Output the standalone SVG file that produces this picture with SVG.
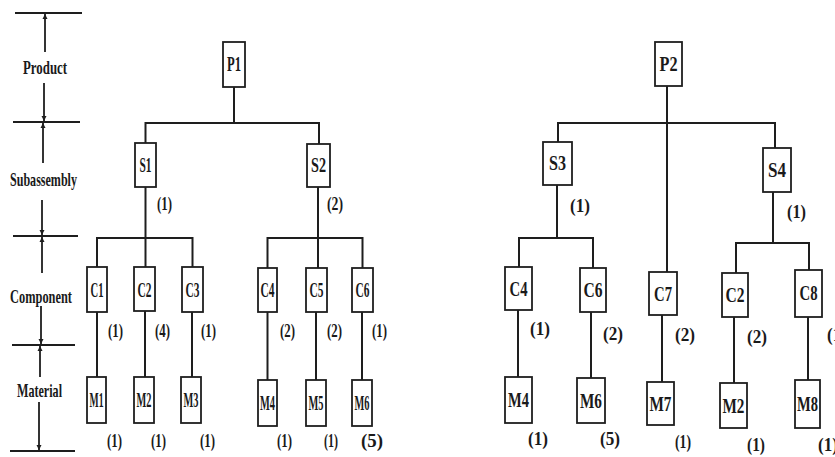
<svg xmlns="http://www.w3.org/2000/svg" width="835" height="457" viewBox="0 0 835 457">
<style>
.bg{fill:#ffffff}
.box{fill:#ffffff;stroke:#1e1e1e;stroke-width:1.8}
.ln{fill:none;stroke:#1e1e1e;stroke-width:2;stroke-linecap:square}
.ax{fill:none;stroke:#1e1e1e;stroke-width:1.8}
.t{font-family:"Liberation Serif","Times New Roman",serif;font-size:20px;font-weight:bold;fill:#1a1a1a;text-anchor:middle}
.q{font-family:"Liberation Serif","Times New Roman",serif;font-size:18px;font-weight:bold;fill:#1a1a1a}
.lv{font-family:"Liberation Serif","Times New Roman",serif;font-size:19px;font-weight:bold;fill:#1a1a1a}
</style>
<defs>
<marker id="arr" viewBox="0 0 6 6" refX="6" refY="3" markerWidth="5" markerHeight="6" markerUnits="userSpaceOnUse" orient="auto">
<path d="M0,0 L6,3 L0,6 z" fill="#1e1e1e"/>
</marker>
</defs>
<rect class="bg" x="0" y="0" width="835" height="457"/>

<g id="levels">
<line class="ax" x1="15" y1="13" x2="82" y2="13"/>
<line class="ax" x1="13" y1="122" x2="80" y2="122"/>
<line class="ax" x1="13" y1="236" x2="78" y2="236"/>
<line class="ax" x1="12" y1="345" x2="75" y2="345"/>
<line class="ax" x1="10" y1="451" x2="75" y2="451"/>
<line class="ax" x1="45" y1="52" x2="45" y2="14" marker-end="url(#arr)"/>
<line class="ax" x1="44" y1="83" x2="44" y2="121" marker-end="url(#arr)"/>
<line class="ax" x1="43" y1="163" x2="43" y2="123" marker-end="url(#arr)"/>
<line class="ax" x1="42" y1="200" x2="42" y2="235" marker-end="url(#arr)"/>
<line class="ax" x1="42" y1="273" x2="42" y2="237" marker-end="url(#arr)"/>
<line class="ax" x1="41" y1="306" x2="41" y2="344" marker-end="url(#arr)"/>
<line class="ax" x1="40" y1="377" x2="40" y2="346" marker-end="url(#arr)"/>
<line class="ax" x1="39" y1="402" x2="39" y2="450" marker-end="url(#arr)"/>
<text class="lv" x="23" y="74" textLength="44" lengthAdjust="spacingAndGlyphs">Product</text>
<text class="lv" x="10" y="186" textLength="67" lengthAdjust="spacingAndGlyphs">Subassembly</text>
<text class="lv" x="10" y="303" textLength="62" lengthAdjust="spacingAndGlyphs">Component</text>
<text class="lv" x="17" y="397" textLength="45" lengthAdjust="spacingAndGlyphs">Material</text>
</g>

<g id="connectors">
<polyline class="ln" points="234,87 234,123"/>
<polyline class="ln" points="145.5,143 145.5,123 319,123 319,144"/>
<polyline class="ln" points="145.5,187 145.5,267"/>
<polyline class="ln" points="97,267 97,238 192.5,238 192.5,267"/>
<polyline class="ln" points="97,312 97,377"/>
<polyline class="ln" points="145,311 145,377"/>
<polyline class="ln" points="192,312 192,377"/>
<polyline class="ln" points="318,187 318,268"/>
<polyline class="ln" points="267.5,268 267.5,238 362.5,238 362.5,268"/>
<polyline class="ln" points="267.5,312 267.5,380"/>
<polyline class="ln" points="316,312 316,380"/>
<polyline class="ln" points="362,312 362,380"/>

<polyline class="ln" points="667,86 667,272"/>
<polyline class="ln" points="558,142 558,123 775,123 775,148"/>
<polyline class="ln" points="557,185 557,238"/>
<polyline class="ln" points="519,267 519,238 593,238 593,268"/>
<polyline class="ln" points="518,310 518,377"/>
<polyline class="ln" points="591,312 591,378"/>
<polyline class="ln" points="662,315 662,382"/>
<polyline class="ln" points="773,192 773,243"/>
<polyline class="ln" points="736,273 736,243 809,243 809,270"/>
<polyline class="ln" points="734,317 734,383"/>
<polyline class="ln" points="808,317 808,380"/>
</g>

<g id="node-P1"><rect class="box" x="223" y="42" width="22" height="45"/><text class="t" x="234" y="71" textLength="14" lengthAdjust="spacingAndGlyphs">P1</text></g>
<g id="node-S1"><rect class="box" x="135" y="143" width="21" height="44"/><text class="t" x="145.5" y="172" textLength="12" lengthAdjust="spacingAndGlyphs">S1</text><text class="q" x="157" y="210" textLength="15" lengthAdjust="spacingAndGlyphs">(1)</text></g>
<g id="node-S2"><rect class="box" x="307" y="144" width="23" height="43"/><text class="t" x="318.5" y="172" textLength="15" lengthAdjust="spacingAndGlyphs">S2</text><text class="q" x="327" y="210" textLength="16" lengthAdjust="spacingAndGlyphs">(2)</text></g>

<g id="node-C1"><rect class="box" x="87" y="267" width="20" height="45"/><text class="t" x="97" y="297" textLength="13" lengthAdjust="spacingAndGlyphs">C1</text><text class="q" x="108" y="337" textLength="15" lengthAdjust="spacingAndGlyphs">(1)</text></g>
<g id="node-C2"><rect class="box" x="134" y="267" width="21" height="44"/><text class="t" x="144.5" y="297" textLength="14" lengthAdjust="spacingAndGlyphs">C2</text><text class="q" x="155" y="337" textLength="15" lengthAdjust="spacingAndGlyphs">(4)</text></g>
<g id="node-C3"><rect class="box" x="182" y="267" width="21" height="45"/><text class="t" x="192.5" y="297" textLength="14" lengthAdjust="spacingAndGlyphs">C3</text><text class="q" x="201" y="337" textLength="15" lengthAdjust="spacingAndGlyphs">(1)</text></g>
<g id="node-C4a"><rect class="box" x="258" y="268" width="19" height="44"/><text class="t" x="267.5" y="297" textLength="14" lengthAdjust="spacingAndGlyphs">C4</text><text class="q" x="280" y="337" textLength="15" lengthAdjust="spacingAndGlyphs">(2)</text></g>
<g id="node-C5"><rect class="box" x="306" y="268" width="21" height="44"/><text class="t" x="316.5" y="297" textLength="14" lengthAdjust="spacingAndGlyphs">C5</text><text class="q" x="327" y="337" textLength="15" lengthAdjust="spacingAndGlyphs">(2)</text></g>
<g id="node-C6a"><rect class="box" x="352" y="268" width="21" height="44"/><text class="t" x="362.5" y="297" textLength="14" lengthAdjust="spacingAndGlyphs">C6</text><text class="q" x="372" y="337" textLength="15" lengthAdjust="spacingAndGlyphs">(1)</text></g>

<g id="node-M1"><rect class="box" x="87" y="377" width="19" height="46"/><text class="t" x="96.5" y="407" textLength="14" lengthAdjust="spacingAndGlyphs">M1</text><text class="q" x="107" y="447" textLength="15" lengthAdjust="spacingAndGlyphs">(1)</text></g>
<g id="node-M2a"><rect class="box" x="134" y="377" width="20" height="46"/><text class="t" x="144" y="407" textLength="15" lengthAdjust="spacingAndGlyphs">M2</text><text class="q" x="151" y="447" textLength="15" lengthAdjust="spacingAndGlyphs">(1)</text></g>
<g id="node-M3"><rect class="box" x="181" y="377" width="20" height="46"/><text class="t" x="191" y="407" textLength="15" lengthAdjust="spacingAndGlyphs">M3</text><text class="q" x="200" y="447" textLength="15" lengthAdjust="spacingAndGlyphs">(1)</text></g>
<g id="node-M4a"><rect class="box" x="258" y="380" width="19" height="46"/><text class="t" x="267.5" y="410" textLength="15" lengthAdjust="spacingAndGlyphs">M4</text><text class="q" x="277" y="447" textLength="15" lengthAdjust="spacingAndGlyphs">(1)</text></g>
<g id="node-M5"><rect class="box" x="306" y="380" width="20" height="46"/><text class="t" x="316" y="410" textLength="15" lengthAdjust="spacingAndGlyphs">M5</text><text class="q" x="324" y="447" textLength="14" lengthAdjust="spacingAndGlyphs">(1)</text></g>
<g id="node-M6a"><rect class="box" x="352" y="380" width="20" height="46"/><text class="t" x="362" y="410" textLength="15" lengthAdjust="spacingAndGlyphs">M6</text><text class="q" x="361" y="447" textLength="22" lengthAdjust="spacingAndGlyphs">(5)</text></g>

<g id="node-P2"><rect class="box" x="655" y="42" width="27" height="44"/><text class="t" x="668.5" y="71" textLength="18" lengthAdjust="spacingAndGlyphs">P2</text></g>
<g id="node-S3"><rect class="box" x="543" y="142" width="29" height="43"/><text class="t" x="557.5" y="170" textLength="17" lengthAdjust="spacingAndGlyphs">S3</text><text class="q" x="570" y="212" textLength="20" lengthAdjust="spacingAndGlyphs">(1)</text></g>
<g id="node-S4"><rect class="box" x="763" y="148" width="28" height="44"/><text class="t" x="777" y="177" textLength="18" lengthAdjust="spacingAndGlyphs">S4</text><text class="q" x="787" y="218" textLength="19" lengthAdjust="spacingAndGlyphs">(1)</text></g>

<g id="node-C4b"><rect class="box" x="505" y="267" width="27" height="43"/><text class="t" x="518.5" y="296" textLength="18" lengthAdjust="spacingAndGlyphs">C4</text><text class="q" x="530" y="335" textLength="20" lengthAdjust="spacingAndGlyphs">(1)</text></g>
<g id="node-C6b"><rect class="box" x="580" y="268" width="26" height="44"/><text class="t" x="593" y="297" textLength="19" lengthAdjust="spacingAndGlyphs">C6</text><text class="q" x="603" y="340" textLength="20" lengthAdjust="spacingAndGlyphs">(2)</text></g>
<g id="node-C7"><rect class="box" x="649" y="272" width="28" height="43"/><text class="t" x="663" y="301" textLength="18" lengthAdjust="spacingAndGlyphs">C7</text><text class="q" x="675" y="341" textLength="20" lengthAdjust="spacingAndGlyphs">(2)</text></g>
<g id="node-C2b"><rect class="box" x="722" y="273" width="26" height="44"/><text class="t" x="735" y="302" textLength="19" lengthAdjust="spacingAndGlyphs">C2</text><text class="q" x="747" y="343" textLength="20" lengthAdjust="spacingAndGlyphs">(2)</text></g>
<g id="node-C8"><rect class="box" x="795" y="270" width="27" height="47"/><text class="t" x="808.5" y="300" textLength="18" lengthAdjust="spacingAndGlyphs">C8</text><text class="q" x="827" y="341" textLength="20" lengthAdjust="spacingAndGlyphs">(1)</text></g>

<g id="node-M4b"><rect class="box" x="505" y="377" width="27" height="46"/><text class="t" x="518.5" y="407" textLength="21" lengthAdjust="spacingAndGlyphs">M4</text><text class="q" x="528" y="445" textLength="20" lengthAdjust="spacingAndGlyphs">(1)</text></g>
<g id="node-M6b"><rect class="box" x="577" y="378" width="28" height="45"/><text class="t" x="591" y="408" textLength="22" lengthAdjust="spacingAndGlyphs">M6</text><text class="q" x="600" y="445" textLength="20" lengthAdjust="spacingAndGlyphs">(5)</text></g>
<g id="node-M7"><rect class="box" x="647" y="382" width="27" height="43"/><text class="t" x="660.5" y="411" textLength="22" lengthAdjust="spacingAndGlyphs">M7</text><text class="q" x="675" y="448" textLength="16" lengthAdjust="spacingAndGlyphs">(1)</text></g>
<g id="node-M2b"><rect class="box" x="720" y="383" width="27" height="45"/><text class="t" x="733.5" y="413" textLength="22" lengthAdjust="spacingAndGlyphs">M2</text><text class="q" x="747" y="451" textLength="18" lengthAdjust="spacingAndGlyphs">(1)</text></g>
<g id="node-M8"><rect class="box" x="795" y="380" width="25" height="48"/><text class="t" x="807.5" y="411" textLength="21" lengthAdjust="spacingAndGlyphs">M8</text><text class="q" x="818" y="451" textLength="20" lengthAdjust="spacingAndGlyphs">(1)</text></g>
</svg>
